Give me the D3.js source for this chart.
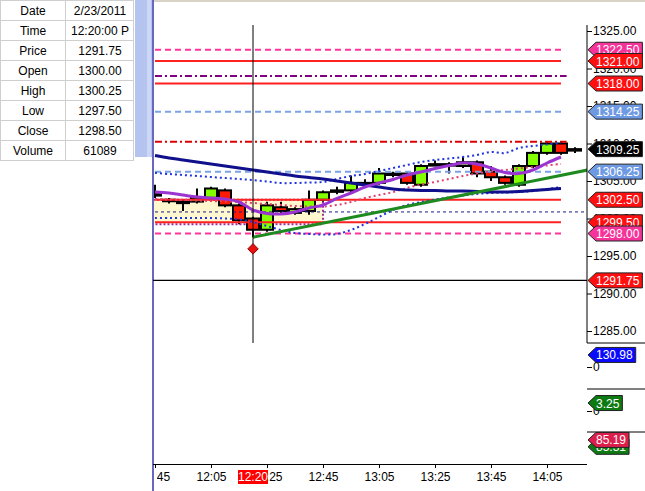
<!DOCTYPE html>
<html>
<head>
<meta charset="utf-8">
<script src="https://cdn.jsdelivr.net/npm/d3@7"></script>
<style>
  body { margin: 0; background: #fff; }
  svg { display: block; font-family: "Liberation Sans", Arial, sans-serif; }
</style>
</head>
<body>
<svg id="chart" width="645" height="491"></svg>
<script>
// data window (top left)
const infoLabels = ["Date", "Time", "Price", "Open", "High", "Low", "Close", "Volume"];
const infoValues = ["2/23/2011", "12:20:00 P", "1291.75", "1300.00", "1300.25", "1297.50", "1298.50", "61089"];

// 5 minute bars
const barTimes = ["11:45", "11:50", "11:55", "12:00", "12:05", "12:10", "12:15", "12:20", "12:25", "12:30",
                  "12:35", "12:40", "12:45", "12:50", "12:55", "13:00", "13:05", "13:10", "13:15", "13:20",
                  "13:25", "13:30", "13:35", "13:40", "13:45", "13:50", "13:55", "14:00", "14:05", "14:10", "14:15"];
const opens  = [1303.25, 1302.5, 1302.25, 1302.25, 1302.75, 1303.75, 1301.75, 1300.0, 1298.5, 1301.5,
                1300.75, 1301.0, 1302.5, 1303.75, 1303.75, 1304.75, 1304.75, 1306.0, 1306.0, 1304.5,
                1307.25, 1307.25, 1307.0, 1307.5, 1306.25, 1305.5, 1304.5, 1307.0, 1308.75, 1310.0, 1309.25];
const highs  = [1304.5, 1302.75, 1302.5, 1304.0, 1304.25, 1304.0, 1302.0, 1300.25, 1302.25, 1302.25,
                1301.5, 1303.75, 1303.75, 1304.25, 1305.75, 1305.25, 1306.75, 1306.25, 1306.25, 1307.25,
                1307.75, 1307.5, 1308.25, 1307.75, 1307.0, 1305.75, 1307.25, 1309.0, 1310.25, 1310.25, 1309.5];
const lows   = [1302.75, 1302.0, 1301.0, 1302.0, 1302.5, 1301.5, 1299.25, 1297.5, 1298.25, 1300.75,
                1300.5, 1300.5, 1302.25, 1303.25, 1303.5, 1304.5, 1304.5, 1305.5, 1304.5, 1304.25,
                1307.0, 1306.0, 1306.75, 1305.5, 1305.0, 1304.5, 1304.25, 1306.75, 1308.5, 1308.5, 1308.75];
const closes = [1303.25, 1302.5, 1302.25, 1302.75, 1304.0, 1301.75, 1299.75, 1298.5, 1301.75, 1301.0,
                1301.25, 1302.5, 1303.5, 1303.75, 1304.75, 1304.75, 1306.0, 1306.0, 1304.75, 1307.0,
                1307.25, 1307.25, 1307.5, 1306.0, 1305.5, 1304.75, 1307.0, 1308.75, 1310.0, 1308.75, 1309.25];

// indicators, one value per bar up to 14:10
const maSlow = [1308.40, 1308.07, 1307.80, 1307.53, 1307.27, 1307.00, 1306.73, 1306.47, 1306.20, 1305.93,
                1305.67, 1305.47, 1305.27, 1305.00, 1304.73, 1304.47, 1304.20, 1303.93, 1303.80, 1303.73,
                1303.73, 1303.67, 1303.67, 1303.60, 1303.53, 1303.53, 1303.60, 1303.73, 1303.87, 1304.00];
const maFast = [1303.53, 1303.40, 1303.13, 1302.87, 1302.73, 1302.60, 1302.20, 1301.13, 1300.67, 1300.60,
                1300.87, 1301.40, 1301.80, 1302.67, 1303.40, 1304.20, 1304.73, 1305.20, 1305.80, 1306.20,
                1306.67, 1307.07, 1307.40, 1307.27, 1306.73, 1306.13, 1306.00, 1306.47, 1307.40, 1308.20];
const maDotted = [1302.60, 1302.53, 1302.47, 1302.40, 1302.33, 1302.27, 1302.20, 1302.07, 1301.93, 1301.80,
                  1301.67, 1301.60, 1301.60, 1301.80, 1302.20, 1302.73, 1303.13, 1303.53, 1304.07, 1304.53,
                  1304.87, 1305.27, 1305.67, 1306.00, 1306.27, 1306.47, 1306.67, 1306.87, 1307.07, 1307.27];
const bandUpper = [1306.07, 1305.93, 1305.80, 1305.67, 1305.53, 1305.40, 1305.27, 1305.13, 1304.93, 1304.73,
                   1304.73, 1304.80, 1304.87, 1305.27, 1305.67, 1305.93, 1306.33, 1306.73, 1307.13, 1307.53,
                   1307.80, 1308.00, 1308.20, 1308.47, 1308.87, 1308.73, 1309.40, 1309.67, 1309.87, 1310.07];
const bandLower = [1300.07, 1300.07, 1300.07, 1300.07, 1300.07, 1300.00, 1299.87, 1299.53, 1299.00, 1298.47,
                   1298.07, 1297.93, 1297.87, 1297.93, 1298.47, 1299.27, 1300.20, 1301.13, 1301.80, 1302.20,
                   1302.53, 1302.80, 1303.07, 1303.27, 1303.40, 1303.47, 1303.53, 1303.67, 1303.93, 1304.20];

// horizontal price levels
const levelPrices = [1322.5, 1321.0, 1319.0, 1318.0, 1314.25, 1310.25, 1306.25, 1302.5, 1300.875, 1299.5, 1298.0];
// price tags on the right axis
const tagPrices = [1322.50, 1321.00, 1318.00, 1314.25, 1309.25, 1306.25, 1302.50, 1299.50, 1298.00, 1291.75];

const priceTicks = [1285, 1290, 1295, 1300, 1305, 1310, 1315, 1320, 1325];
const timeTicks = ["11:45", "12:05", "12:25", "12:45", "13:05", "13:25", "13:45", "14:05"];

const cursorTime = "12:20";
const cursorPrice = 1291.75;
const signalPrice = 1295.95;
const trendTimes = ["12:20", "14:20"];
const trendPrices = [1297.5, 1306.5];
const rangeTimes = ["11:40", "12:45"];
const rangePrices = [1299.5, 1302.5];

// lower panes
const volumeTag = 130.98;
const momentumTag = 3.25;
const oscTags = [85.31, 85.19];

// ---------------------------------------------------------------
const parseTime = d3.timeParse("%H:%M");
const svg = d3.select("#chart");

const left = 153, right = 587;
const x = d3.scaleTime()
    .domain([parseTime("11:45"), parseTime("14:05")])
    .range([155, 547]);
const y = d3.scaleLinear().domain([1285, 1325]).range([331, 31]);

// data window
const info = svg.append("g");
infoLabels.forEach(function(label, i) {
    info.append("rect").attr("x", 0.5).attr("y", i * 20 + 0.5).attr("width", 65).attr("height", 20)
        .attr("fill", "#fff").attr("stroke", "#cfcfcf");
    info.append("rect").attr("x", 65.5).attr("y", i * 20 + 0.5).attr("width", 68).attr("height", 20)
        .attr("fill", "#fff").attr("stroke", "#cfcfcf");
    info.append("text").attr("x", 33).attr("y", i * 20 + 15).attr("text-anchor", "middle")
        .attr("font-size", 12).text(label);
    info.append("text").attr("x", 100).attr("y", i * 20 + 15).attr("text-anchor", "middle")
        .attr("font-size", 12).text(infoValues[i]);
});
svg.append("rect").attr("x", 135).attr("y", 0).attr("width", 17).attr("height", 157).attr("fill", "#b5c4ef");
svg.append("rect").attr("x", 147).attr("y", 0).attr("width", 4).attr("height", 157).attr("fill", "#cdd8f6");
svg.append("rect").attr("x", left).attr("y", 0).attr("width", 645 - left).attr("height", 2).attr("fill", "#d8d4c8");
svg.append("line").attr("x1", left).attr("x2", left).attr("y1", 0).attr("y2", 491)
    .attr("stroke", "#6868c0").attr("stroke-width", 2);

svg.append("clipPath").attr("id", "plot").append("rect")
    .attr("x", left + 1).attr("y", 2).attr("width", right - left - 1).attr("height", 462);
const plot = svg.append("g").attr("clip-path", "url(#plot)");

// range box
plot.append("rect")
    .attr("x", x(parseTime(rangeTimes[0]))).attr("y", y(rangePrices[1]))
    .attr("width", x(parseTime(rangeTimes[1])) - x(parseTime(rangeTimes[0])))
    .attr("height", y(rangePrices[0]) - y(rangePrices[1]))
    .attr("fill", "#fff8cf");
plot.append("path")
    .attr("d", `M${x(parseTime(rangeTimes[0]))},${y(rangePrices[1])} H${x(parseTime(rangeTimes[1]))} V${y(rangePrices[0]) + 2} H${x(parseTime(rangeTimes[0]))}`)
    .attr("fill", "none").attr("stroke", "#a02c9c").attr("stroke-width", 2).attr("stroke-dasharray", "2,2");

// candles
const bars = barTimes.map(function(t, i) {
    return {t: parseTime(t), o: opens[i], h: highs[i], l: lows[i], c: closes[i]};
});
const candle = plot.selectAll("g.candle").data(bars).enter().append("g");
candle.append("line")
    .attr("x1", d => x(d.t)).attr("x2", d => x(d.t))
    .attr("y1", d => y(d.h)).attr("y2", d => y(d.l))
    .attr("stroke", "#000").attr("stroke-width", 2);
candle.append("rect")
    .attr("x", d => x(d.t) - 6).attr("width", 12)
    .attr("y", d => y(Math.max(d.o, d.c)))
    .attr("height", d => Math.max(1.5, Math.abs(y(d.o) - y(d.c))))
    .attr("fill", d => d.c > d.o ? "#84ff00" : (d.c < d.o ? "#ff1a00" : "#000"))
    .attr("stroke", "#000").attr("stroke-width", 2);

// horizontal levels
const levelStyles = [
    {color: "#ff3399", width: 2, dash: "6,4", end: "14:10"},
    {color: "#ff2020", width: 2, dash: null, end: "14:10"},
    {color: "#800080", width: 2, dash: "7,3,2,3", end: "14:12"},
    {color: "#ff2020", width: 2, dash: null, end: "14:10"},
    {color: "#7ba2e2", width: 2, dash: "6,4", end: "14:10"},
    {color: "#dd0000", width: 2, dash: "7,3,2,3", end: "14:12"},
    {color: "#7ba2e2", width: 2, dash: "6,4", end: "14:10"},
    {color: "#ff2020", width: 2, dash: null, end: "14:10"},
    {color: "#1a1a8a", width: 1, dash: "3,3", end: "14:20"},
    {color: "#ff2020", width: 2, dash: null, end: "14:10"},
    {color: "#ff3399", width: 2, dash: "6,4", end: "14:10"}
];
levelPrices.forEach(function(p, i) {
    const s = levelStyles[i];
    plot.append("line")
        .attr("x1", 155).attr("x2", x(parseTime(s.end)))
        .attr("y1", y(p)).attr("y2", y(p))
        .attr("stroke", s.color).attr("stroke-width", s.width)
        .attr("stroke-dasharray", s.dash);
});

// indicator lines
const lineTimes = barTimes.slice(0, maSlow.length).map(parseTime);
function drawSeries(values, color, width, dash) {
    const line = d3.line()
        .x((d, i) => x(lineTimes[i]))
        .y(d => y(d))
        .curve(d3.curveCatmullRom);
    plot.append("path").datum(values)
        .attr("d", line)
        .attr("fill", "none").attr("stroke", color).attr("stroke-width", width)
        .attr("stroke-dasharray", dash);
}
drawSeries(bandUpper, "#1f33e0", 2, "2,3");
drawSeries(bandLower, "#1f33e0", 2, "2,3");
drawSeries(maDotted, "#e0406e", 2, "2,3");
drawSeries(maSlow, "#10108c", 3, null);
drawSeries(maFast, "#9b35d2", 3, null);

// trend line
plot.append("line")
    .attr("x1", x(parseTime(trendTimes[0]))).attr("y1", y(trendPrices[0]))
    .attr("x2", x(parseTime(trendTimes[1]))).attr("y2", y(trendPrices[1]))
    .attr("stroke", "#1f8a1f").attr("stroke-width", 3);

// crosshair
const cx = x(parseTime(cursorTime));
svg.append("line").attr("x1", cx).attr("x2", cx).attr("y1", 25).attr("y2", 343)
    .attr("stroke", "#000").attr("stroke-width", 1);
svg.append("line").attr("x1", left).attr("x2", right).attr("y1", y(cursorPrice)).attr("y2", y(cursorPrice))
    .attr("stroke", "#000").attr("stroke-width", 1.2);

// signal diamond
svg.append("path")
    .attr("d", d3.symbol().type(d3.symbolDiamond2).size(70))
    .attr("transform", `translate(${cx},${y(signalPrice)})`)
    .attr("fill", "#e81010").attr("stroke", "#8a0000").attr("stroke-width", 1);

// price axis
svg.append("line").attr("x1", right).attr("x2", right).attr("y1", 25).attr("y2", 343).attr("stroke", "#000");
svg.append("line").attr("x1", right).attr("x2", 645).attr("y1", 343).attr("y2", 343).attr("stroke", "#000");
const yAxis = svg.append("g").attr("transform", `translate(${right},0)`)
    .call(d3.axisRight(y).tickValues(priceTicks).tickFormat(d3.format(".2f")).tickSize(5).tickPadding(1));
yAxis.select(".domain").remove();
yAxis.selectAll("text").attr("font-size", 12).attr("font-family", "Liberation Sans, Arial, sans-serif").attr("fill", "#000");

// tags
function drawTag(cy, label, fill) {
    const g = svg.append("g");
    const path = g.append("path");
    const t = g.append("text").attr("x", 596).attr("y", cy + 4.5)
        .attr("font-size", 12).attr("fill", "#fff").text(label);
    const w = t.node().getComputedTextLength() + 12;
    path.attr("d", `M${right + 1},${cy} L${right + 9},${cy - 7.5} H${right + w} V${cy + 7.5} H${right + 9} Z`)
        .attr("fill", fill).attr("stroke", "#222").attr("stroke-width", 1);
}
const tagColors = ["#f5339a", "#ff0f0f", "#ff0f0f", "#6e99e3", "#000", "#6e99e3", "#ff0f0f", "#ff0f0f", "#f5339a", "#ff0f0f"];
tagPrices.forEach(function(p, i) {
    drawTag(y(p), d3.format(".2f")(p), tagColors[i]);
});

// lower panes
const yVol = d3.scaleLinear().domain([0, 500]).range([367, 321]);
const yMom = d3.scaleLinear().domain([0, 20]).range([411, 362]);
const yOsc = d3.scaleLinear().domain([0, 100]).range([520, 426]);
[389, 432].forEach(function(sy) {
    svg.append("line").attr("x1", right).attr("x2", 645).attr("y1", sy).attr("y2", sy).attr("stroke", "#000");
});
[[yVol, 0], [yMom, 0]].forEach(function(a) {
    const g = svg.append("g").attr("transform", `translate(${right},0)`)
        .call(d3.axisRight(a[0]).tickValues([a[1]]).tickFormat(d3.format("d")).tickSize(5).tickPadding(1));
    g.select(".domain").remove();
    g.selectAll("text").attr("font-size", 12).attr("font-family", "Liberation Sans, Arial, sans-serif").attr("fill", "#000");
});
drawTag(yVol(volumeTag), d3.format(".2f")(volumeTag), "#0a0aff");
drawTag(yMom(momentumTag), d3.format(".2f")(momentumTag), "#0d7a12");
drawTag(yOsc(oscTags[0]) + 7, d3.format(".2f")(oscTags[0]), "#0d7a12");
drawTag(yOsc(oscTags[1]), d3.format(".2f")(oscTags[1]), "#dc1e4c");

// time axis
svg.append("clipPath").attr("id", "timeclip").append("rect")
    .attr("x", 157).attr("y", 455).attr("width", 488).attr("height", 36);
const xAxis = svg.append("g").attr("clip-path", "url(#timeclip)")
  .append("g").attr("transform", "translate(0,464)")
    .call(d3.axisBottom(x).tickValues(timeTicks.map(parseTime)).tickFormat(d3.timeFormat("%H:%M"))
          .tickSize(4).tickPadding(4));
xAxis.select(".domain").remove();
xAxis.selectAll("text").attr("font-size", 12).attr("font-family", "Liberation Sans, Arial, sans-serif").attr("fill", "#000");
xAxis.selectAll("line").attr("stroke", "#000");
// first tick mark sits on the clip edge, draw it outside the clip
svg.append("line").attr("x1", 155.5).attr("x2", 155.5).attr("y1", 464).attr("y2", 468).attr("stroke", "#000");
svg.append("line").attr("x1", left).attr("x2", right).attr("y1", 464.5).attr("y2", 464.5).attr("stroke", "#000");

// cursor time label
const curLabel = svg.append("g");
curLabel.append("rect").attr("x", cx - 15).attr("y", 470).attr("width", 30).attr("height", 14).attr("fill", "#ff0000");
curLabel.append("text").attr("x", cx).attr("y", 481).attr("text-anchor", "middle")
    .attr("font-size", 12).attr("fill", "#fff").text(d3.timeFormat("%H:%M")(parseTime(cursorTime)));
</script>
</body>
</html>
